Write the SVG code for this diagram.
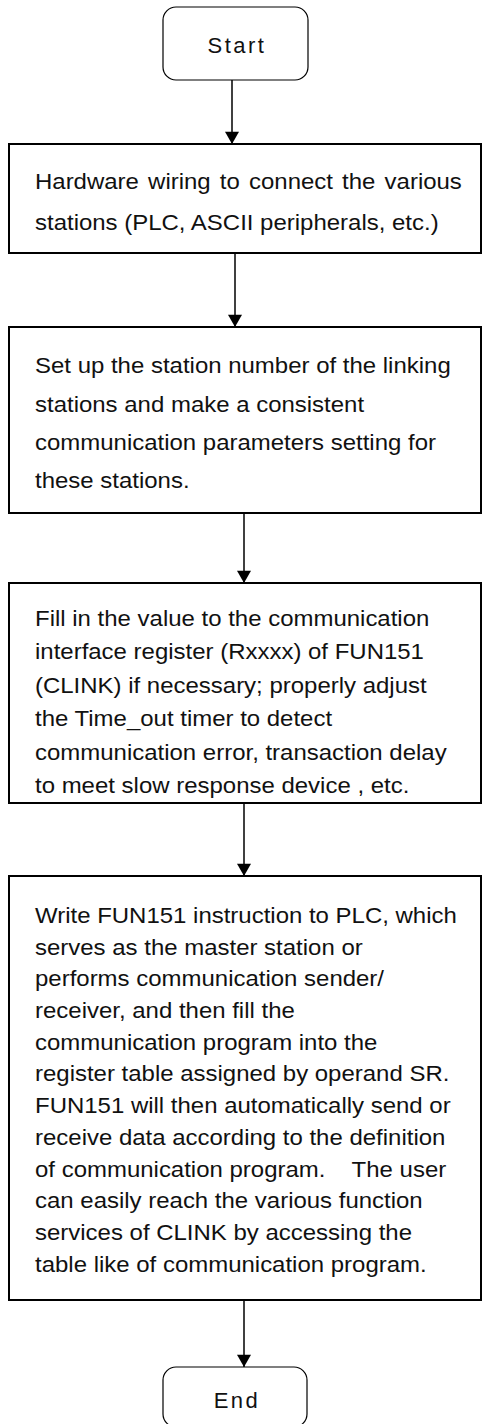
<svg xmlns="http://www.w3.org/2000/svg" width="483" height="1424" viewBox="0 0 483 1424">
<style>
.box{fill:#fff;stroke:#000;stroke-width:2}
.term{fill:#fff;stroke:#000;stroke-width:1.2}
.t{font-family:"Liberation Sans",Arial,sans-serif;font-size:22px;fill:#111}
.tt{font-family:"Liberation Sans",Arial,sans-serif;font-size:22px;letter-spacing:2.5px;fill:#111}
.c{stroke:#000;stroke-width:1.5;fill:none}
</style>
<defs>
<marker id="ah" viewBox="0 0 14 16" refX="14" refY="8" markerWidth="16" markerHeight="14" markerUnits="userSpaceOnUse" orient="auto">
<path d="M0,0 L14,8 L0,16 z" fill="#000"/>
</marker>
</defs>
<g id="connectors">
<line class="c" x1="232" y1="80" x2="232" y2="144" marker-end="url(#ah)"/>
<line class="c" x1="235" y1="253" x2="235" y2="327" marker-end="url(#ah)"/>
<line class="c" x1="244" y1="513" x2="244" y2="583" marker-end="url(#ah)"/>
<line class="c" x1="244" y1="803" x2="244" y2="876" marker-end="url(#ah)"/>
<line class="c" x1="244" y1="1300" x2="244" y2="1367" marker-end="url(#ah)"/>
</g>
<g id="start">
<rect class="term" x="163" y="7" width="145" height="73" rx="13"/>
<text class="tt" x="237" y="53" text-anchor="middle">Start</text>
</g>
<g id="step1">
<rect class="box" x="9" y="144" width="472" height="109"/>
<g transform="matrix(1.09 0 0 1 35 0)">
<text class="t" x="0" y="189" word-spacing="2.3">Hardware wiring to connect the various</text>
<text class="t" x="0" y="230">stations (PLC, ASCII peripherals, etc.)</text>
</g>
</g>
<g id="step2">
<rect class="box" x="9" y="327" width="472" height="186"/>
<g transform="matrix(1.09 0 0 1 35 0)">
<text class="t" x="0" y="373">Set up the station number of the linking</text>
<text class="t" x="0" y="412">stations and make a consistent</text>
<text class="t" x="0" y="450">communication parameters setting for</text>
<text class="t" x="0" y="488">these stations.</text>
</g>
</g>
<g id="step3">
<rect class="box" x="9" y="583" width="472" height="220"/>
<g transform="matrix(1.09 0 0 1 35 0)">
<text class="t" x="0" y="626">Fill in the value to the communication</text>
<text class="t" x="0" y="659">interface register (Rxxxx) of FUN151</text>
<text class="t" x="0" y="693">(CLINK) if necessary; properly adjust</text>
<text class="t" x="0" y="726">the Time_out timer to detect</text>
<text class="t" x="0" y="760">communication error, transaction delay</text>
<text class="t" x="0" y="793">to meet slow response device , etc.</text>
</g>
</g>
<g id="step4">
<rect class="box" x="9" y="876" width="472" height="424"/>
<g transform="matrix(1.09 0 0 1 35 0)">
<text class="t" x="0" y="923">Write FUN151 instruction to PLC, which</text>
<text class="t" x="0" y="955">serves as the master station or</text>
<text class="t" x="0" y="986">performs communication sender/</text>
<text class="t" x="0" y="1018">receiver, and then fill the</text>
<text class="t" x="0" y="1050">communication program into the</text>
<text class="t" x="0" y="1081">register table assigned by operand SR.</text>
<text class="t" x="0" y="1113">FUN151 will then automatically send or</text>
<text class="t" x="0" y="1145">receive data according to the definition</text>
<text class="t" x="0" y="1177" xml:space="preserve">of communication program.    The user</text>
<text class="t" x="0" y="1208">can easily reach the various function</text>
<text class="t" x="0" y="1240">services of CLINK by accessing the</text>
<text class="t" x="0" y="1272">table like of communication program.</text>
</g>
</g>
<g id="end">
<rect class="term" x="163" y="1367" width="144" height="60" rx="13"/>
<text class="tt" x="237" y="1408" text-anchor="middle">End</text>
</g>
</svg>
